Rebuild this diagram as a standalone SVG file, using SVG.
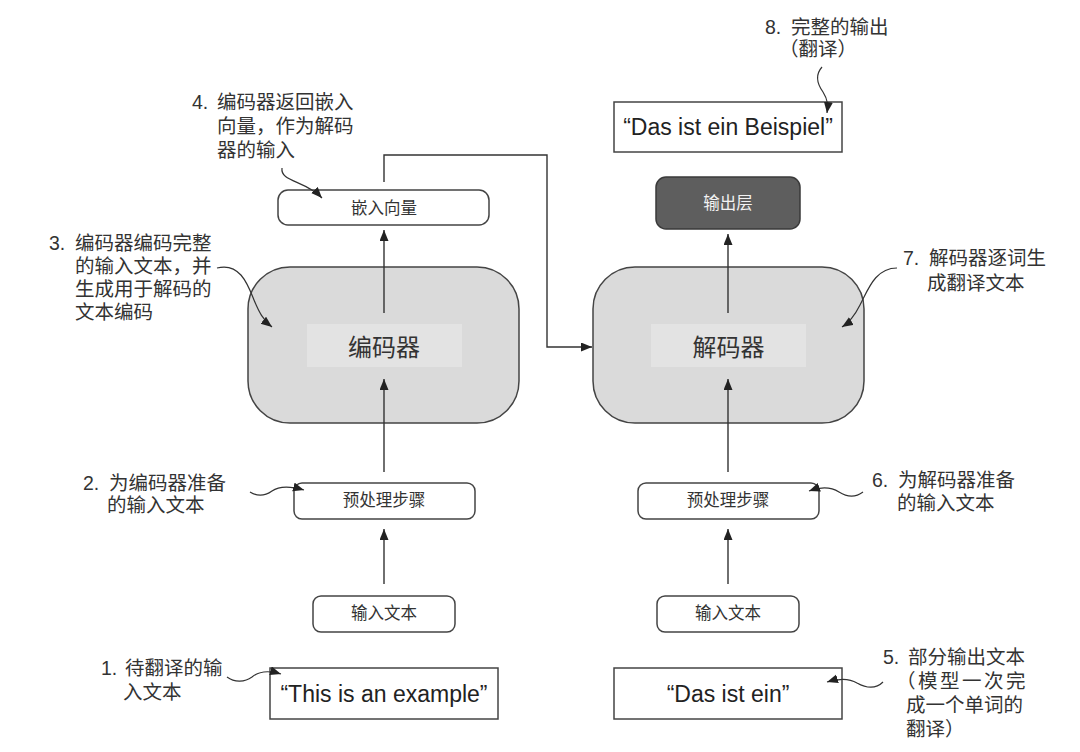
<svg xmlns="http://www.w3.org/2000/svg" width="1080" height="752" viewBox="0 0 1080 752">
<style>
text{font-family:"Liberation Sans","Noto Sans CJK SC",sans-serif;fill:#333}
.ann{font-size:19.5px}
.box{fill:#fff;stroke:#444;stroke-width:1.5}
.big{fill:#dadada;stroke:#444;stroke-width:1.5}
.inner{fill:#e3e3e3;stroke:none}
.lbl{font-size:16.5px;text-anchor:middle}
.quote{font-size:23px;text-anchor:middle;fill:#222}
.ln{fill:none;stroke:#333;stroke-width:1.4}
.sq{fill:none;stroke:#333;stroke-width:1.2}
</style>
<defs>
<marker id="ah" markerUnits="userSpaceOnUse" markerWidth="12" markerHeight="10" refX="11" refY="4.5" orient="auto">
<path d="M0,0 L11,4.5 L0,9 z" fill="#222"/>
</marker>
</defs>
<rect width="1080" height="752" fill="#fff"/>

<g id="encoder">
<rect class="big" x="248" y="267" width="271" height="156" rx="42"/>
<rect class="inner" x="307" y="324" width="155" height="43"/>
<text x="384" y="356" font-size="24" text-anchor="middle">编码器</text>
</g>
<g id="decoder">
<rect class="big" x="593" y="267" width="271" height="156" rx="42"/>
<rect class="inner" x="651" y="324" width="155" height="43"/>
<text x="728.5" y="356" font-size="24" text-anchor="middle">解码器</text>
</g>
<g id="embedding">
<rect class="box" x="278" y="190" width="211" height="35" rx="10"/>
<text class="lbl" x="384" y="214">嵌入向量</text>
</g>
<g id="output-layer">
<rect x="656" y="177" width="144" height="52" rx="10" fill="#5e5e5e" stroke="#3a3a3a" stroke-width="1.5"/>
<text class="lbl" x="728" y="209" style="fill:#f2f2f2">输出层</text>
</g>
<g id="pre-enc">
<rect class="box" x="294" y="483" width="181" height="36" rx="8"/>
<text class="lbl" x="384" y="506">预处理步骤</text>
</g>
<g id="pre-dec">
<rect class="box" x="638" y="483" width="181" height="36" rx="8"/>
<text class="lbl" x="728" y="506">预处理步骤</text>
</g>
<g id="input-enc">
<rect class="box" x="313" y="596" width="142" height="36" rx="8"/>
<text class="lbl" x="384" y="619">输入文本</text>
</g>
<g id="input-dec">
<rect class="box" x="657" y="596" width="142" height="36" rx="8"/>
<text class="lbl" x="728" y="619">输入文本</text>
</g>
<g id="src-text">
<rect class="box" x="270" y="668" width="228" height="51"/>
<text class="quote" x="384" y="702">“This is an example”</text>
</g>
<g id="partial-text">
<rect class="box" x="614" y="668" width="228" height="51"/>
<text class="quote" x="728" y="702">“Das ist ein”</text>
</g>
<g id="final-text">
<rect class="box" x="614" y="102" width="228" height="50"/>
<text class="quote" x="728" y="135">“Das ist ein Beispiel”</text>
</g>

<g id="connectors">
<path class="ln" d="M384,584 V529" marker-end="url(#ah)"/>
<path class="ln" d="M384,472 V379" marker-end="url(#ah)"/>
<path class="ln" d="M384,313 V230" marker-end="url(#ah)"/>
<path class="ln" d="M384,182 V155 H547 V347 H592" marker-end="url(#ah)"/>
<path class="ln" d="M728,584 V529" marker-end="url(#ah)"/>
<path class="ln" d="M728,472 V379" marker-end="url(#ah)"/>
<path class="ln" d="M728,313 V234" marker-end="url(#ah)"/>
<path class="sq" d="M227,677 C235,683 245,682 252,677 C258,672 268,670 281,674" marker-end="url(#ah)"/>
<path class="sq" d="M250,492 C258,497 265,496 272,491 C279,486 290,486 304,490" marker-end="url(#ah)"/>
<path class="sq" d="M217,268 C240,262 248,285 254,300 C259,312 263,320 272,327" marker-end="url(#ah)"/>
<path class="sq" d="M282,168 C280,182 305,180 322,198" marker-end="url(#ah)"/>
<path class="sq" d="M883,682 C875,690 866,688 857,683 C849,678 840,678 827,682" marker-end="url(#ah)"/>
<path class="sq" d="M863,492 C855,498 847,497 839,492 C831,487 820,487 809,491" marker-end="url(#ah)"/>
<path class="sq" d="M897,268 C875,268 868,290 860,305 C855,315 850,322 842,327" marker-end="url(#ah)"/>
<path class="sq" d="M822,67 C814,76 818,85 823,92 C828,100 828,105 827,113" marker-end="url(#ah)"/>
</g>

<g id="ann1" class="ann">
<text class="ann"><tspan x="101" y="675">1.</tspan><tspan x="125">待翻译的输</tspan><tspan x="123" y="699">入文本</tspan></text>
</g>
<g id="ann2">
<text class="ann"><tspan x="83" y="490">2.</tspan><tspan x="109">为编码器准备</tspan><tspan x="107" y="512">的输入文本</tspan></text>
</g>
<g id="ann3">
<text class="ann"><tspan x="49" y="250">3.</tspan><tspan x="75">编码器编码完整</tspan><tspan x="75" y="273">的输入文本，并</tspan><tspan x="75" y="296">生成用于解码的</tspan><tspan x="75" y="319">文本编码</tspan></text>
</g>
<g id="ann4">
<text class="ann"><tspan x="192" y="109">4.</tspan><tspan x="217">编码器返回嵌入</tspan><tspan x="217" y="133">向量，作为解码</tspan><tspan x="217" y="157">器的输入</tspan></text>
</g>
<g id="ann5">
<text class="ann"><tspan x="883" y="664">5.</tspan><tspan x="908">部分输出文本</tspan><tspan x="896" y="688" letter-spacing="2.5">（模型一次完</tspan><tspan x="906" y="712">成一个单词的</tspan><tspan x="906" y="736">翻译）</tspan></text>
</g>
<g id="ann6">
<text class="ann"><tspan x="872" y="487">6.</tspan><tspan x="898">为解码器准备</tspan><tspan x="897" y="510">的输入文本</tspan></text>
</g>
<g id="ann7">
<text class="ann"><tspan x="903" y="265">7.</tspan><tspan x="929">解码器逐词生</tspan><tspan x="927" y="290">成翻译文本</tspan></text>
</g>
<g id="ann8">
<text class="ann"><tspan x="765" y="34">8.</tspan><tspan x="791">完整的输出</tspan><tspan x="779" y="56">（翻译）</tspan></text>
</g>
</svg>
